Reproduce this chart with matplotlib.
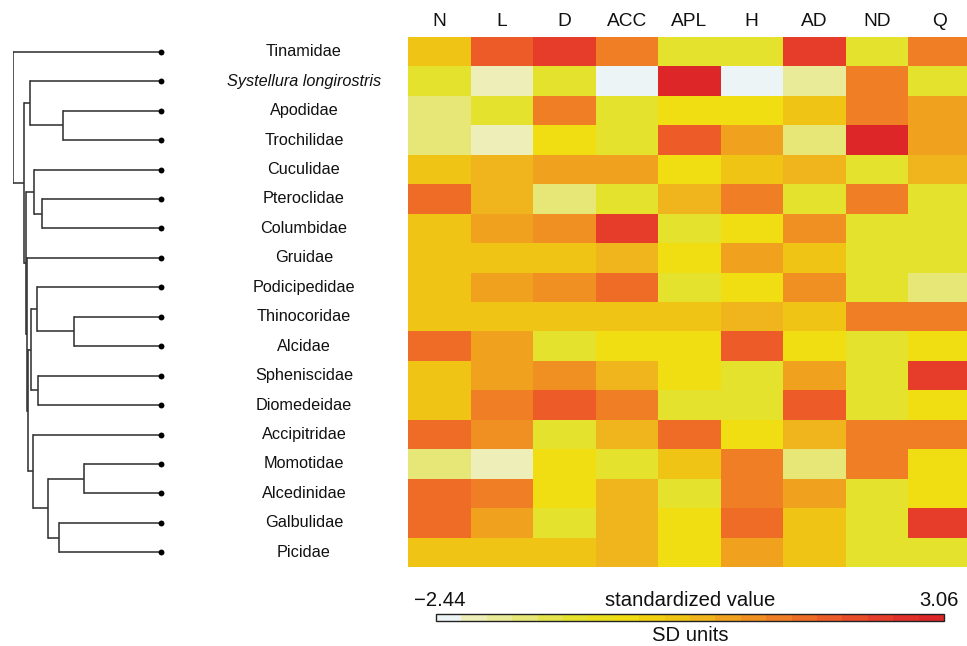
import matplotlib
matplotlib.use("Agg")
import matplotlib.pyplot as plt
import matplotlib.transforms as mtransforms
from matplotlib.colors import ListedColormap, BoundaryNorm
from matplotlib.cm import ScalarMappable
import numpy as np

plt.rcParams['font.family'] = ['Liberation Sans', 'DejaVu Sans']

# ---------------- data ----------------
taxa = ["Tinamidae", "Systellura longirostris", "Apodidae", "Trochilidae",
        "Cuculidae", "Pteroclidae", "Columbidae", "Gruidae", "Podicipedidae",
        "Thinocoridae", "Alcidae", "Spheniscidae", "Diomedeidae",
        "Accipitridae", "Momotidae", "Alcedinidae", "Galbulidae", "Picidae"]
variables = ["N", "L", "D", "ACC", "APL", "H", "AD", "ND", "Q"]

values = [
    [0.17, 1.82, 2.37, 1.27, -0.93, -0.93, 2.37, -0.93, 1.27],    # Tinamidae
    [-0.93, -2.03, -0.93, -2.44, 3.05, -2.44, -1.75, 1.27, -0.93],  # Systellura
    [-1.48, -0.93, 1.27, -0.93, -0.38, -0.38, 0.17, 1.27, 0.72],   # Apodidae
    [-1.48, -2.03, -0.38, -0.93, 1.82, 0.72, -1.48, 3.05, 0.72],   # Trochilidae
    [0.17, 0.45, 0.72, 0.72, -0.38, 0.17, 0.45, -0.93, 0.45],      # Cuculidae
    [1.55, 0.45, -1.48, -0.93, 0.45, 1.27, -0.93, 1.27, -0.93],    # Pteroclidae
    [0.17, 0.72, 1.00, 2.37, -0.93, -0.38, 1.00, -0.93, -0.93],    # Columbidae
    [0.17, 0.17, 0.17, 0.45, -0.38, 0.72, 0.17, -0.93, -0.93],     # Gruidae
    [0.17, 0.72, 1.00, 1.55, -0.93, -0.38, 1.00, -0.93, -1.48],    # Podicipedidae
    [0.17, 0.17, 0.17, 0.17, 0.17, 0.45, 0.17, 1.27, 1.27],        # Thinocoridae
    [1.55, 0.72, -0.93, -0.38, -0.38, 1.82, -0.38, -0.93, -0.38],  # Alcidae
    [0.17, 0.72, 1.00, 0.45, -0.38, -0.93, 0.72, -0.93, 2.37],     # Spheniscidae
    [0.17, 1.27, 1.82, 1.27, -0.93, -0.93, 1.82, -0.93, -0.38],    # Diomedeidae
    [1.55, 1.00, -0.93, 0.45, 1.55, -0.38, 0.45, 1.27, 1.27],      # Accipitridae
    [-1.48, -2.03, -0.38, -0.93, 0.17, 1.27, -1.48, 1.27, -0.38],  # Momotidae
    [1.55, 1.27, -0.38, 0.45, -0.93, 1.27, 0.72, -0.93, -0.38],    # Alcedinidae
    [1.55, 0.72, -0.93, 0.45, -0.38, 1.55, 0.17, -0.93, 2.37],     # Galbulidae
    [0.17, 0.17, 0.17, 0.45, -0.38, 0.72, 0.17, -0.93, -0.93],     # Picidae
]

vmin, vmax = -2.44, 3.06
n_bins = 20
palette = ["#EDF4F5", "#EDEEB8", "#EAEB98", "#E6E776", "#E5E44C",
           "#E5E22E", "#EADF1E", "#F0DD12", "#F1D010", "#F0C414",
           "#F0B41C", "#F0A21F", "#F09022", "#F07E24", "#EF6C26",
           "#ED5C28", "#E94C29", "#E53D2A", "#E1302A", "#DD2628"]

# tree: internal node -> (depth from root, children); leaves at depth 1
tree_nodes = {
    "root": (0.000, ["Tinamidae", "n1"]),
    "n1": (0.076, ["c1", "n2"]),
    "c1": (0.117, ["Systellura longirostris", "at"]),
    "at": (0.341, ["Apodidae", "Trochilidae"]),
    "n2": (0.088, ["c2", "n3"]),
    "c2": (0.142, ["Cuculidae", "pc"]),
    "pc": (0.200, ["Pteroclidae", "Columbidae"]),
    "n3": (0.094, ["Gruidae", "n4"]),
    "n4": (0.105, ["n5", "c5"]),
    "n5": (0.123, ["c3", "c4"]),
    "c3": (0.162, ["Podicipedidae", "ta"]),
    "ta": (0.413, ["Thinocoridae", "Alcidae"]),
    "c4": (0.169, ["Spheniscidae", "Diomedeidae"]),
    "c5": (0.139, ["Accipitridae", "mg"]),
    "mg": (0.240, ["ma", "gp"]),
    "ma": (0.483, ["Momotidae", "Alcedinidae"]),
    "gp": (0.314, ["Galbulidae", "Picidae"]),
}

# ---------------- figure ----------------
W, H = 967, 646
fig = plt.figure(figsize=(W / 100, H / 100), dpi=100)
txt_col = "#111111"

hm_left, hm_top, hm_bottom = 408, 37, 567
col_w = 62.5
nrows, ncols = len(taxa), len(variables)
ax = fig.add_axes([hm_left / W, 1 - hm_bottom / H,
                   col_w * ncols / W, (hm_bottom - hm_top) / H])
cmap = ListedColormap(palette)
bounds = np.linspace(vmin, vmax, n_bins + 1)
norm = BoundaryNorm(bounds, cmap.N)
data = np.array(values)
ax.pcolormesh(np.arange(ncols + 1) - 0.5, np.arange(nrows + 1) - 0.5, data,
              cmap=cmap, norm=norm, edgecolor="none")
ax.set_xlim(-0.5, ncols - 0.5)
ax.set_ylim(nrows - 0.5, -0.5)
for s in ax.spines.values():
    s.set_visible(False)
ax.set_yticks([])
ax.xaxis.tick_top()
ax.set_xticks(range(ncols))
ax.set_xticklabels(variables, fontsize=13.8, color=txt_col)
ax.tick_params(axis="x", length=0, pad=5.2)

# tree axes
leaf_x0, leaf_x1 = 12.7, 161
tax = fig.add_axes([leaf_x0 / W, 1 - hm_bottom / H,
                    (leaf_x1 - leaf_x0) / W, (hm_bottom - hm_top) / H])
tax.set_xlim(0, 1)
tax.set_ylim(nrows - 0.5, -0.5)
tax.axis("off")
leaf_row = {t: i for i, t in enumerate(taxa)}
lc = "#333333"
lw = 1.15


def draw(node):
    if node in leaf_row:
        return 1.0, leaf_row[node]
    depth, kids = tree_nodes[node]
    ys = []
    for k in kids:
        kd, ky = draw(k)
        tax.plot([depth, kd], [ky, ky], color=lc, lw=lw, solid_capstyle="butt")
        ys.append(ky)
    tax.plot([depth, depth], [min(ys), max(ys)], color=lc, lw=lw,
             solid_capstyle="projecting")
    return depth, sum(ys) / len(ys)


draw("root")
tax.scatter(np.ones(nrows), np.arange(nrows), s=18, color="black", zorder=5,
            clip_on=False, linewidths=0)

# labels
trans = mtransforms.blended_transform_factory(fig.transFigure, tax.transData)
for i, t in enumerate(taxa):
    style = "italic" if t.startswith("Systellura") else "normal"
    fig.text(304 / W, i, t, transform=trans, ha="center", va="center",
             fontsize=11.7, style=style, color=txt_col)

# colorbar
cb_left, cb_right, cb_top, cb_bot = 436, 944, 614, 621
cax = fig.add_axes([cb_left / W, 1 - cb_bot / H, (cb_right - cb_left) / W,
                    (cb_bot - cb_top) / H])
sm = ScalarMappable(norm=norm, cmap=cmap)
cb = fig.colorbar(sm, cax=cax, orientation="horizontal", drawedges=False)
cb.set_ticks([])
cb.minorticks_off()
cax.tick_params(which="both", length=0, labelbottom=False, labeltop=False)
cb.outline.set_linewidth(1.0)
cb.outline.set_edgecolor("#222222")

top_base = 1 - 606 / H
fig.text(cb_left / W + 4 / W, top_base, "\u22122.44", ha="center",
         va="baseline", fontsize=14.6, color=txt_col)
fig.text(cb_right / W - 5 / W, top_base, "3.06", ha="center", va="baseline",
         fontsize=14.6, color=txt_col)
fig.text((cb_left + cb_right) / 2 / W, top_base, "standardized value",
         ha="center", va="baseline", fontsize=14.6, color=txt_col)
fig.text((cb_left + cb_right) / 2 / W, 1 - 641 / H, "SD units", ha="center",
         va="baseline", fontsize=14.6, color=txt_col)

fig.savefig("out.png", dpi=100)
